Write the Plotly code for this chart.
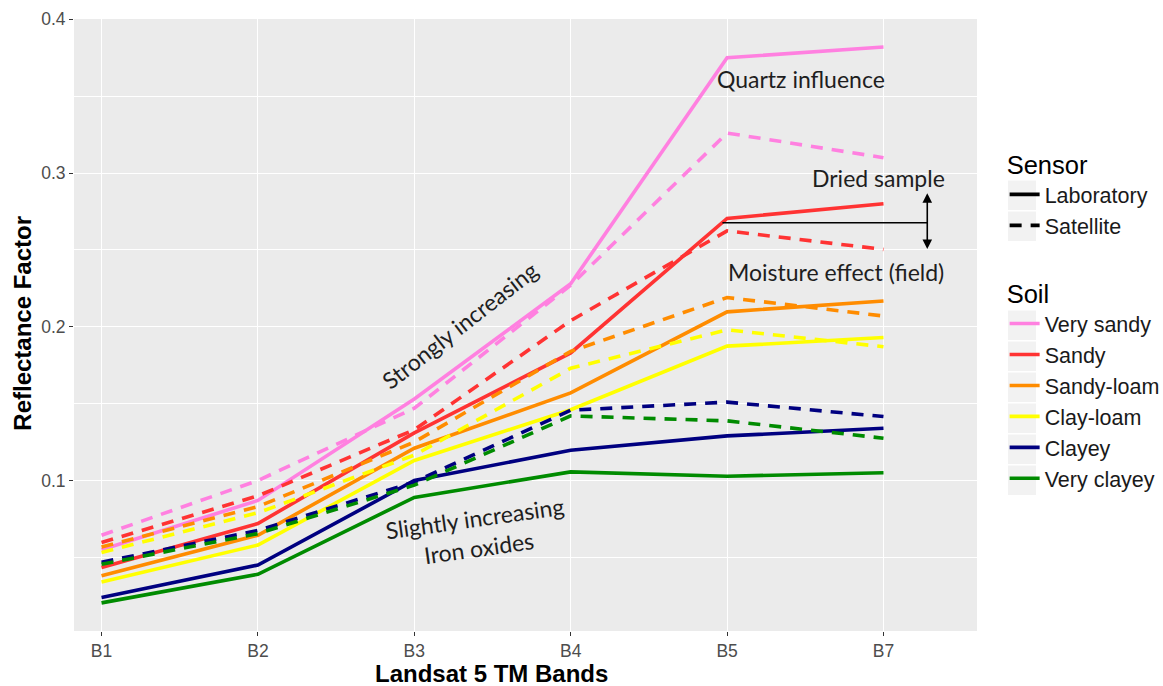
import plotly.graph_objects as go

# Landsat 5 TM bands on the x axis
bands = ["B1", "B2", "B3", "B4", "B5", "B7"]

soils = ["Very sandy", "Sandy", "Sandy-loam", "Clay-loam", "Clayey", "Very clayey"]
soil_colors = ["#FF80E0", "#FF3333", "#FF8C00", "#FFFF00", "#000080", "#008B00"]

# Reflectance factor measured on dried samples in the laboratory
lab_very_sandy = [0.055, 0.087, 0.153, 0.228, 0.375, 0.382]
lab_sandy = [0.0434, 0.072, 0.131, 0.183, 0.2705, 0.280]
lab_sandy_loam = [0.038, 0.0644, 0.121, 0.157, 0.2097, 0.2168]
lab_clay_loam = [0.034, 0.058, 0.113, 0.146, 0.1874, 0.193]
lab_clayey = [0.0239, 0.045, 0.100, 0.1197, 0.129, 0.134]
lab_very_clayey = [0.0204, 0.039, 0.089, 0.1056, 0.1028, 0.105]

# Reflectance factor from the satellite image (field conditions)
sat_very_sandy = [0.0644, 0.100, 0.147, 0.227, 0.326, 0.310]
sat_sandy = [0.0597, 0.090, 0.133, 0.204, 0.2624, 0.2503]
sat_sandy_loam = [0.0568, 0.083, 0.125, 0.184, 0.219, 0.207]
sat_clay_loam = [0.0532, 0.079, 0.1165, 0.173, 0.198, 0.187]
sat_clayey = [0.0468, 0.0675, 0.099, 0.1457, 0.151, 0.1416]
sat_very_clayey = [0.0455, 0.0655, 0.097, 0.142, 0.1388, 0.1275]

lab_series = [lab_very_sandy, lab_sandy, lab_sandy_loam, lab_clay_loam, lab_clayey, lab_very_clayey]
sat_series = [sat_very_sandy, sat_sandy, sat_sandy_loam, sat_clay_loam, sat_clayey, sat_very_clayey]

LW = 3.6
DASH = "12px,9px"
TEXT_FONT = "Lato"
AXIS_FONT = "Liberation Sans"

W, H = 1163, 686
M_L, M_R, M_T, M_B = 74, 186, 19, 55
PLOT_W = W - M_L - M_R
PLOT_H = H - M_T - M_B


def px_to_paper_x(px):
    return (px - M_L) / PLOT_W


def px_to_paper_y(py):
    return (H - M_B - py) / PLOT_H


fig = go.Figure()

for soil, color, lab, sat in zip(soils, soil_colors, lab_series, sat_series):
    fig.add_trace(go.Scatter(
        x=bands, y=sat, mode="lines", name=soil, showlegend=False,
        line=dict(color=color, width=LW, dash=DASH), hoverinfo="skip"))
    fig.add_trace(go.Scatter(
        x=bands, y=lab, mode="lines", name=soil, legend="legend2",
        line=dict(color=color, width=LW), hoverinfo="skip"))

# Sensor legend entries (line type only)
fig.add_trace(go.Scatter(x=[None], y=[None], mode="lines", name="Laboratory",
                         legend="legend", line=dict(color="black", width=LW)))
fig.add_trace(go.Scatter(x=[None], y=[None], mode="lines", name="Satellite",
                         legend="legend", line=dict(color="black", width=LW, dash=DASH)))

# Dried sample vs field moisture marker
marker_y = 0.2676
fig.add_shape(type="line", xref="x", yref="y", x0=3.97, x1=5.28, y0=marker_y, y1=marker_y,
              line=dict(color="black", width=1.5))
fig.add_annotation(x=5.28, y=0.2869, ax=5.28, ay=0.2496, xref="x", yref="y",
                   axref="x", ayref="y", text="", showarrow=True, arrowside="end+start",
                   arrowhead=2, arrowsize=1.2, arrowwidth=1.6, arrowcolor="black")

notes = [
    ("Quartz influence", 4.473, 0.3611, 0),
    ("Dried sample", 4.965, 0.2967, 0),
    ("Moisture effect (field)", 4.696, 0.2355, 0),
    ("Strongly increasing", 2.292, 0.2010, -38),
    ("Slightly increasing<br>Iron oxides", 2.40, 0.0656, -8),
]
for text, nx, ny, ang in notes:
    fig.add_annotation(x=nx, y=ny, xref="x", yref="y", text=text, showarrow=False,
                       textangle=ang, font=dict(family=TEXT_FONT, size=23, color="#1E1E1E"))

# Axis titles
fig.add_annotation(x=-0.057, y=0.503, xref="paper", yref="paper", text="<b>Reflectance Factor</b>",
                   showarrow=False, textangle=-90, xanchor="center", yanchor="middle",
                   font=dict(family=AXIS_FONT, size=24, color="black"))
fig.add_annotation(x=0.4629, y=-0.0695, xref="paper", yref="paper", text="<b>Landsat 5 TM Bands</b>",
                   showarrow=False, xanchor="center", yanchor="middle",
                   font=dict(family=AXIS_FONT, size=24, color="black"))

# Light grey key boxes behind the legend symbols
key_rows = [195, 226, 325, 356, 387, 418, 449, 480]
for cy in key_rows:
    fig.add_shape(type="rect", xref="paper", yref="paper", layer="below",
                  x0=px_to_paper_x(1008), x1=px_to_paper_x(1036),
                  y0=px_to_paper_y(cy + 15), y1=px_to_paper_y(cy - 14.5),
                  fillcolor="#F2F2F2", line=dict(width=0))

legend_common = dict(
    xanchor="left", yanchor="top", bgcolor="rgba(0,0,0,0)",
    font=dict(family=AXIS_FONT, size=21.5, color="#1a1a1a"),
    itemwidth=30, tracegroupgap=0, itemclick=False, itemdoubleclick=False,
)
fig.update_layout(
    width=W, height=H,
    margin=dict(l=M_L, r=M_R, t=M_T, b=M_B, autoexpand=False),
    paper_bgcolor="white", plot_bgcolor="#EBEBEB",
    legend=dict(title=dict(text="Sensor", font=dict(family=AXIS_FONT, size=25.5, color="black")),
                x=1.0306, y=0.801, **legend_common),
    legend2=dict(title=dict(text="Soil", font=dict(family=AXIS_FONT, size=25.5, color="black")),
                 x=1.0306, y=0.590, **legend_common),
    xaxis=dict(
        type="category", range=[-0.176, 5.598], showgrid=True, gridcolor="white", gridwidth=1.2,
        zeroline=False, showline=False, ticks="outside", ticklen=4, tickcolor="#333333",
        tickfont=dict(family=AXIS_FONT, size=17.5, color="#4D4D4D"),
    ),
    yaxis=dict(
        range=[0.0021, 0.4002], tick0=0, dtick=0.1, tickformat=".1f",
        showgrid=True, gridcolor="white", gridwidth=1.2, zeroline=False, showline=False,
        ticks="outside", ticklen=4, tickcolor="#333333",
        tickfont=dict(family=AXIS_FONT, size=17.5, color="#4D4D4D"),
        minor=dict(dtick=0.05, tick0=0, showgrid=True, gridcolor="white", gridwidth=0.6),
    ),
)

fig.write_html("out.html")
